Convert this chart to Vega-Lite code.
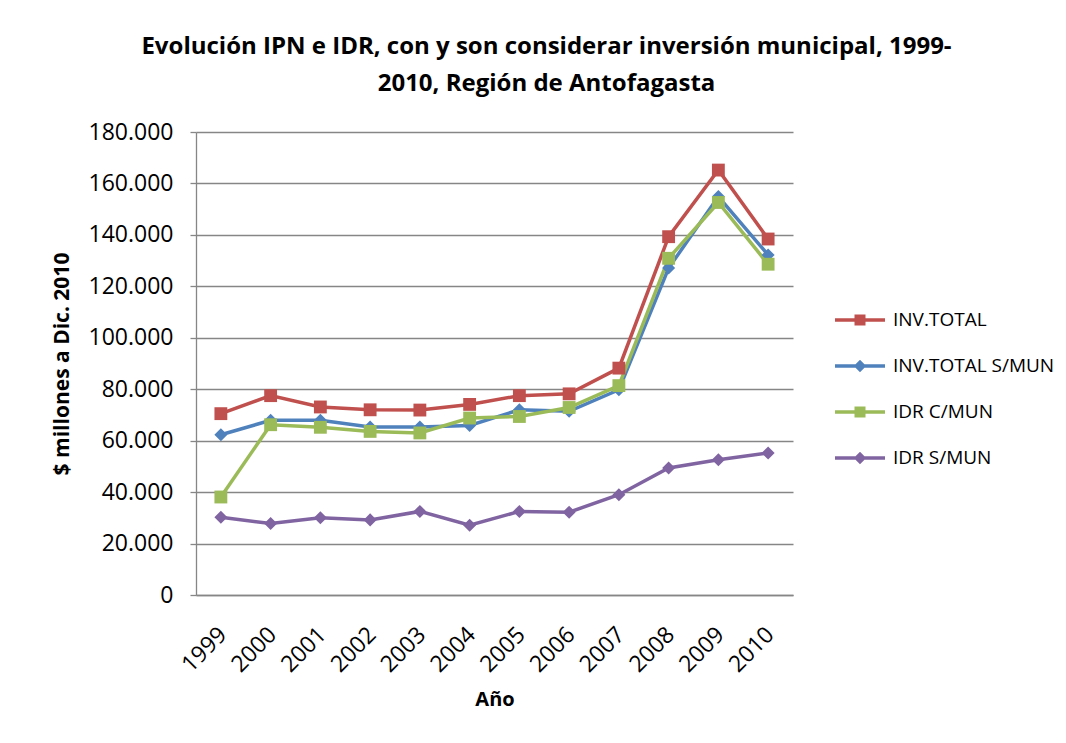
{
  "$schema": "https://vega.github.io/schema/vega-lite/v6.json",
  "width": 597,
  "height": 463,
  "autosize": {"type": "none"},
  "padding": {"left": 196, "top": 132, "right": 273, "bottom": 148},
  "background": "white",
  "config": {
    "locale": {"number": {"decimal": ",", "thousands": ".", "grouping": [3], "currency": ["$", ""]}},
    "font": "Open Sans",
    "view": {"stroke": null}
  },
  "title": {
    "text": ["Evolución IPN e IDR, con y son considerar inversión municipal, 1999-", "2010, Región de Antofagasta"],
    "fontSize": 24,
    "fontWeight": "bold",
    "font": "Open Sans",
    "color": "black",
    "anchor": "middle",
    "frame": "group",
    "dx": 52,
    "offset": 25,
    "lineHeight": 37
  },
  "data": {
    "values": [
      {"year": "1999", "series": "INV.TOTAL", "value": 70500},
      {"year": "2000", "series": "INV.TOTAL", "value": 77500},
      {"year": "2001", "series": "INV.TOTAL", "value": 73100},
      {"year": "2002", "series": "INV.TOTAL", "value": 72000},
      {"year": "2003", "series": "INV.TOTAL", "value": 71900},
      {"year": "2004", "series": "INV.TOTAL", "value": 74100},
      {"year": "2005", "series": "INV.TOTAL", "value": 77500},
      {"year": "2006", "series": "INV.TOTAL", "value": 78200},
      {"year": "2007", "series": "INV.TOTAL", "value": 88200},
      {"year": "2008", "series": "INV.TOTAL", "value": 139300},
      {"year": "2009", "series": "INV.TOTAL", "value": 165200},
      {"year": "2010", "series": "INV.TOTAL", "value": 138400},
      {"year": "1999", "series": "INV.TOTAL S/MUN", "value": 62300},
      {"year": "2000", "series": "INV.TOTAL S/MUN", "value": 67900},
      {"year": "2001", "series": "INV.TOTAL S/MUN", "value": 67900},
      {"year": "2002", "series": "INV.TOTAL S/MUN", "value": 65300},
      {"year": "2003", "series": "INV.TOTAL S/MUN", "value": 65300},
      {"year": "2004", "series": "INV.TOTAL S/MUN", "value": 65900},
      {"year": "2005", "series": "INV.TOTAL S/MUN", "value": 72000},
      {"year": "2006", "series": "INV.TOTAL S/MUN", "value": 71400},
      {"year": "2007", "series": "INV.TOTAL S/MUN", "value": 79800},
      {"year": "2008", "series": "INV.TOTAL S/MUN", "value": 127100},
      {"year": "2009", "series": "INV.TOTAL S/MUN", "value": 154900},
      {"year": "2010", "series": "INV.TOTAL S/MUN", "value": 132200},
      {"year": "1999", "series": "IDR C/MUN", "value": 38100},
      {"year": "2000", "series": "IDR C/MUN", "value": 66200},
      {"year": "2001", "series": "IDR C/MUN", "value": 65200},
      {"year": "2002", "series": "IDR C/MUN", "value": 63600},
      {"year": "2003", "series": "IDR C/MUN", "value": 63000},
      {"year": "2004", "series": "IDR C/MUN", "value": 68800},
      {"year": "2005", "series": "IDR C/MUN", "value": 69400},
      {"year": "2006", "series": "IDR C/MUN", "value": 72900},
      {"year": "2007", "series": "IDR C/MUN", "value": 81400},
      {"year": "2008", "series": "IDR C/MUN", "value": 130900},
      {"year": "2009", "series": "IDR C/MUN", "value": 152600},
      {"year": "2010", "series": "IDR C/MUN", "value": 128600},
      {"year": "1999", "series": "IDR S/MUN", "value": 30200},
      {"year": "2000", "series": "IDR S/MUN", "value": 27800},
      {"year": "2001", "series": "IDR S/MUN", "value": 30000},
      {"year": "2002", "series": "IDR S/MUN", "value": 29200},
      {"year": "2003", "series": "IDR S/MUN", "value": 32500},
      {"year": "2004", "series": "IDR S/MUN", "value": 27100},
      {"year": "2005", "series": "IDR S/MUN", "value": 32500},
      {"year": "2006", "series": "IDR S/MUN", "value": 32200},
      {"year": "2007", "series": "IDR S/MUN", "value": 39000},
      {"year": "2008", "series": "IDR S/MUN", "value": 49400},
      {"year": "2009", "series": "IDR S/MUN", "value": 52600},
      {"year": "2010", "series": "IDR S/MUN", "value": 55200}
    ]
  },
  "encoding": {
    "x": {
      "field": "year",
      "type": "ordinal",
      "scale": {"type": "point", "padding": 0.5},
      "axis": {
        "title": "Año",
        "titleFontSize": 20,
        "titleFontWeight": "bold",
        "titleColor": "black",
        "titlePadding": 13,
        "labelAngle": -45,
        "labelFontSize": 23,
        "labelColor": "black",
        "labelPadding": 28,
        "labelOffset": -6,
        "ticks": false,
        "grid": false,
        "domainColor": "#868686",
        "domainWidth": 1.3
      }
    },
    "y": {
      "field": "value",
      "type": "quantitative",
      "scale": {"domain": [0, 180000], "nice": false, "zero": true},
      "axis": {
        "title": "$ millones a Dic. 2010",
        "titleFontSize": 21,
        "titleFontWeight": "bold",
        "titleColor": "black",
        "titlePadding": 16,
        "values": [0, 20000, 40000, 60000, 80000, 100000, 120000, 140000, 160000, 180000],
        "format": ",.0f",
        "labelFontSize": 23,
        "labelColor": "black",
        "labelPadding": 17,
        "tickSize": 6,
        "tickColor": "#868686",
        "tickWidth": 1.3,
        "gridColor": "#868686",
        "gridWidth": 1.3,
        "domainColor": "#868686",
        "domainWidth": 1.3
      }
    },
    "color": {
      "field": "series",
      "type": "nominal",
      "scale": {
        "domain": ["INV.TOTAL", "INV.TOTAL S/MUN", "IDR C/MUN", "IDR S/MUN"],
        "range": ["#C0504D", "#4F81BD", "#9BBB59", "#8064A2"]
      },
      "legend": {
        "orient": "none",
        "legendX": 654,
        "legendY": 178,
        "title": null,
        "labelFontSize": 19,
        "labelFont": "Open Sans",
        "labelColor": "black",
        "labelLimit": 400,
        "symbolSize": 400,
        "symbolStrokeWidth": 0,
        "rowPadding": 26,
        "labelOffset": 23,
        "encode": {
          "symbols": {
            "update": {
              "shape": {"signal": "indexof(['INV.TOTAL','IDR C/MUN'], datum.value) >= 0 ? 'M-2.5,-0.18H2.5V0.18H-2.5Z M-0.55,-0.55H0.55V0.55H-0.55Z' : 'M-2.5,-0.18H2.5V0.18H-2.5Z M0,-0.62L0.62,0L0,0.62L-0.62,0Z'"},
              "fill": {"signal": "scale('color', datum.value)"},
              "opacity": {"value": 1},
              "fillOpacity": {"value": 1},
              "strokeWidth": {"value": 0}
            }
          }
        }
      }
    }
  },
  "layer": [
    {
      "mark": {"type": "line", "strokeWidth": 3.5}
    },
    {
      "transform": [{"filter": "datum.series == 'INV.TOTAL S/MUN' || datum.series == 'IDR S/MUN'"}],
      "mark": {"type": "point", "filled": true, "opacity": 1, "size": 170, "shape": "diamond"}
    },
    {
      "transform": [{"filter": "datum.series == 'INV.TOTAL' || datum.series == 'IDR C/MUN'"}],
      "mark": {"type": "point", "filled": true, "opacity": 1, "size": 165, "shape": "square"}
    }
  ]
}
